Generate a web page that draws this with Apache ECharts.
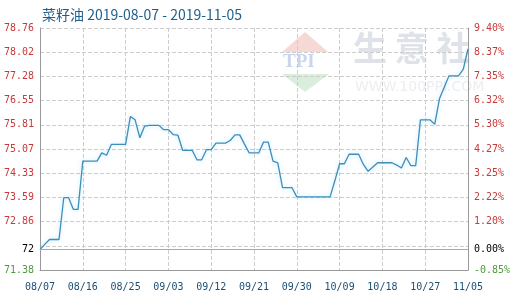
<!DOCTYPE html>
<html>
<head>
<meta charset="utf-8">
<script src="https://cdn.jsdelivr.net/npm/echarts@6/dist/echarts.min.js"></script>
<style>html,body{margin:0;padding:0;background:#fff}#c{width:520px;height:300px}</style>
</head>
<body>
<div id="c"></div>
<script>
var titleText = '菜籽油 2019-08-07 - 2019-11-05';
var dates = ['08/07','08/08','08/09','08/10','08/11','08/12','08/13','08/14','08/15','08/16',
'08/17','08/18','08/19','08/20','08/21','08/22','08/23','08/24','08/25','08/26',
'08/27','08/28','08/29','08/30','08/31','09/01','09/02','09/03','09/04','09/05',
'09/06','09/07','09/08','09/09','09/10','09/11','09/12','09/13','09/14','09/15',
'09/16','09/17','09/18','09/19','09/20','09/21','09/22','09/23','09/24','09/25',
'09/26','09/27','09/28','09/29','09/30','10/01','10/02','10/03','10/04','10/05',
'10/06','10/07','10/08','10/09','10/10','10/11','10/12','10/13','10/14','10/15',
'10/16','10/17','10/18','10/19','10/20','10/21','10/22','10/23','10/24','10/25',
'10/26','10/27','10/28','10/29','10/30','10/31','11/01','11/02','11/03','11/04','11/05'];
var prices = [72.00,72.16,72.31,72.31,72.31,73.59,73.59,73.23,73.23,74.70,
74.70,74.70,74.70,74.95,74.88,75.21,75.21,75.21,75.21,76.06,
75.96,75.41,75.77,75.79,75.79,75.79,75.66,75.66,75.51,75.49,
75.03,75.03,75.03,74.74,74.74,75.05,75.05,75.25,75.25,75.25,
75.33,75.50,75.50,75.22,74.95,74.95,74.95,75.28,75.28,74.70,
74.65,73.89,73.89,73.89,73.61,73.61,73.61,73.61,73.61,73.61,
73.61,73.61,74.10,74.62,74.62,74.91,74.91,74.91,74.60,74.39,
74.52,74.65,74.65,74.65,74.65,74.58,74.49,74.81,74.56,74.56,
75.96,75.96,75.96,75.82,76.60,76.95,77.30,77.30,77.30,77.50,78.12];
var basePrice = 72;
var yMin = 71.38, yMax = 78.76;
var gridTicks = [71.38,72.118,72.856,73.594,74.332,75.07,75.808,76.546,77.284,78.022,78.76];
var labelValues = [71.38,72,72.856,73.594,74.332,75.07,75.808,76.546,77.284,78.022,78.76];
var leftLabels = ['71.38','72','72.86','73.59','74.33','75.07','75.81','76.55','77.28','78.02','78.76'];
var rightLabels = ['-0.85%','0.00%','1.20%','2.22%','3.25%','4.27%','5.30%','6.32%','7.35%','8.37%','9.40%'];

function idxOf(v){
  for (var i=0;i<labelValues.length;i++){ if (Math.abs(labelValues[i]-v)<1e-6) return i; }
  return -1;
}
function labColor(v){
  var i = idxOf(v);
  if (i===0) return '#4f9a3c';
  if (i===1) return '#000000';
  return '#c8393a';
}
var mono = '"DejaVu Sans Mono", "Liberation Mono", monospace';
var chart = echarts.init(document.getElementById('c'), null, {renderer:'canvas'});
chart.setOption({
  animation:false,
  backgroundColor:'#ffffff',
  title:{text:titleText,left:37,top:3,textStyle:{fontFamily:'"Noto Sans CJK SC", sans-serif',fontSize:14,fontWeight:'normal',color:'#1f5f8c'}},
  graphic:[
    {type:'polygon',z:-10,shape:{points:[[282,52],[305,32],[328,52]]},style:{fill:'#f6d9d4'}},
    {type:'polygon',z:-10,shape:{points:[[282,74],[329,74],[305,92]]},style:{fill:'#d9eedc'}},
    {type:'text',z:-10,left:283,top:53,style:{text:'TPI',font:'bold 19px "Liberation Serif", serif',fill:'#c9d5ea'}},
    {type:'text',z:-10,left:353,top:31,style:{text:'生 意 社',font:'bold 34px "Noto Sans CJK SC", sans-serif',fill:'#dfe3e9'}},
    {type:'text',z:-10,left:355,top:80,style:{text:'WWW.100PPI.COM',font:'14px "DejaVu Sans", sans-serif',fill:'#eceef2'}}
  ],
  grid:{left:40,right:52,top:28,bottom:30,containLabel:false},
  xAxis:{
    type:'category',data:dates,boundaryGap:false,
    axisLine:{show:true,lineStyle:{color:'#999999',width:1}},
    axisTick:{show:false},
    axisLabel:{interval:8,margin:12,color:'#1d4f73',fontFamily:mono,fontSize:10},
    splitLine:{show:true,interval:8,lineStyle:{color:'#cccccc',type:'dashed',width:1}}
  },
  yAxis:[{
    type:'value',min:yMin,max:yMax,
    axisLine:{show:true,lineStyle:{color:'#999999'}},
    axisTick:{show:false,customValues:gridTicks},
    splitLine:{show:true,lineStyle:{color:'#cccccc',type:'dashed'}},
    axisLabel:{customValues:labelValues,margin:6,fontFamily:mono,fontSize:10,
      formatter:function(v){var i=idxOf(v);return i>=0?leftLabels[i]:'';},
      color:function(v){return labColor(v);}}
  },{
    type:'value',min:yMin,max:yMax,position:'right',
    axisLine:{show:true,lineStyle:{color:'#999999'}},
    axisTick:{show:false,customValues:gridTicks},
    splitLine:{show:false},
    axisLabel:{customValues:labelValues,margin:6,fontFamily:mono,fontSize:10,
      formatter:function(v){var i=idxOf(v);return i>=0?rightLabels[i]:'';},
      color:function(v){return labColor(v);}}
  }],
  series:[{
    type:'line',data:prices,yAxisIndex:0,showSymbol:false,symbol:'none',
    lineStyle:{color:'#3f8db8',width:1.3,shadowColor:'rgba(120,210,255,0.55)',shadowBlur:4},
    markLine:{silent:true,symbol:['none','none'],label:{show:false},
      lineStyle:{color:'#aaaaaa',type:'solid',width:1},
      data:[{yAxis:basePrice}]}
  }]
});
</script>
</body>
</html>
